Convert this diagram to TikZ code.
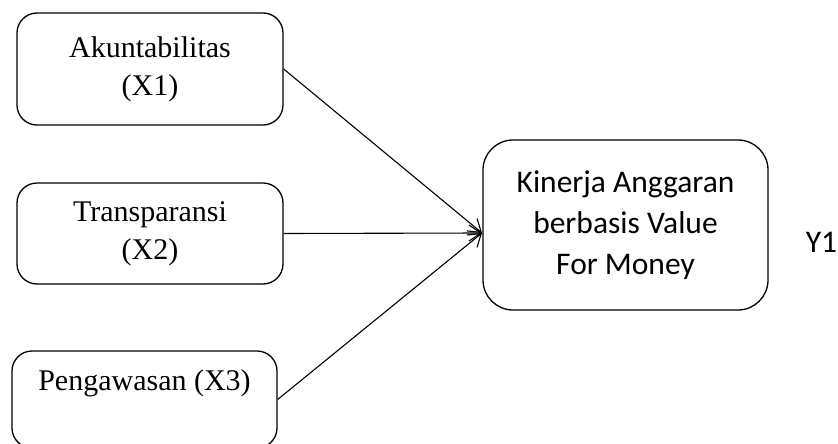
\documentclass[tikz,border=0pt]{standalone}
\usepackage{fontspec}
\usepackage{tikz}
\usetikzlibrary{positioning,arrows.meta}
\newfontfamily\timesfont{Liberation Serif}
\newfontfamily\calibrifont{Carlito}
\tikzset{
    var-box/.style = {draw, rounded corners=20pt, line width=1.3pt, minimum width=266pt, align=center, font=\timesfont\fontsize{30}{38}\selectfont},
    result-box/.style = {draw, rounded corners=30pt, line width=1.3pt, minimum width=285pt, minimum height=170pt, align=center, font=\calibrifont\fontsize{31.5}{41}\selectfont},
    path-arrow/.style = {line width=1.1pt, -{Straight Barb[length=12pt,width=16pt]}},
}
\begin{document}
\begin{tikzpicture}[x=1pt, y=-1pt]
\useasboundingbox (0,0) rectangle (838,444);
\clip (0,0) rectangle (838,444);

\node [var-box, minimum height=112pt] (x1) at (150,69) {Akuntabilitas\\(X1)};
\node [var-box, minimum height=101pt] (x2) at (150,233.5) {Transparansi\\(X2)};
\node [var-box, minimum height=97pt, minimum width=265pt] (x3) at (144.5,399.5) {Pengawasan (X3)\\ \mbox{}};

\node [result-box] (kinerja) at (625.5,225) {Kinerja Anggaran\\berbasis Value\\For Money};
\node [inner sep=0pt, right=37pt of kinerja, yshift=-17pt, font=\calibrifont\fontsize{31.5}{41}\selectfont] (y1) {Y1};

\coordinate (hub) at (482,233);
\draw [path-arrow] (x1.east) -- (hub);
\draw [path-arrow] (x2.east) -- (hub);
\draw [path-arrow] (x3.east) -- (hub);
\end{tikzpicture}
\end{document}
